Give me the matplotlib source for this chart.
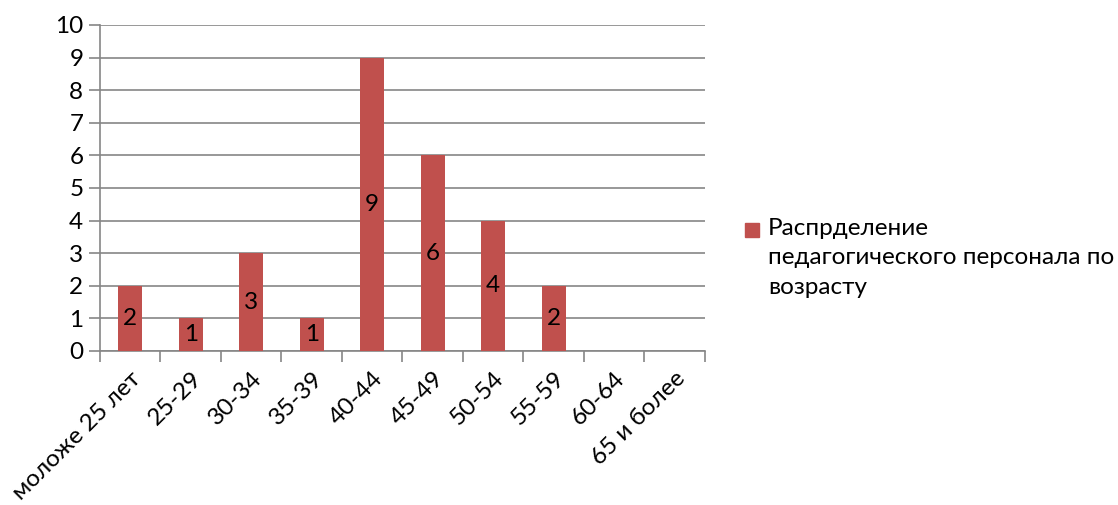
import matplotlib
matplotlib.use("Agg")
import matplotlib.pyplot as plt
from matplotlib.patches import Rectangle
import numpy as np

# DATA
categories = ["моложе 25 лет", "25-29", "30-34", "35-39", "40-44",
              "45-49", "50-54", "55-59", "60-64", "65 и более"]
counts = [2, 1, 3, 1, 9, 6, 4, 2, 0, 0]
series_name = "Распрделение\nпедагогического персонала по\nвозрасту"

plt.rcParams['font.family'] = ['Lato', 'DejaVu Sans']

bar_color = "#C0504D"
grid_color = "#868686"
fs = 17.5

fig = plt.figure(figsize=(11.18, 5.05), dpi=100)
ax = fig.add_axes([0.0894, 0.305, 0.5411, 0.6455])

x = np.arange(len(categories))
ax.bar(x, counts, width=0.4, color=bar_color, zorder=3)

# data labels in the middle of each non-zero bar
for xi, v in zip(x, counts):
    if v > 0:
        ax.text(xi, v / 2, str(v), ha="center", va="center", fontsize=fs, zorder=4)

ax.set_xlim(-0.5, len(categories) - 0.5)
ax.set_ylim(0, 10)
ax.set_yticks(range(0, 11))
ax.yaxis.grid(True, color=grid_color, linewidth=1.2, zorder=0)

ax.set_xticks(x)
ax.set_xticklabels(categories, rotation=45, ha="right", rotation_mode="anchor", fontsize=fs)
ax.set_xticks(np.arange(-0.5, len(categories)), minor=True)
ax.tick_params(axis="x", which="major", length=0, pad=12)
ax.tick_params(axis="x", which="minor", length=8, width=1.2, color=grid_color, direction="out")
ax.tick_params(axis="y", length=8, width=1.2, color=grid_color, labelsize=fs, pad=4)

for side in ["top", "right"]:
    ax.spines[side].set_visible(False)
for side in ["left", "bottom"]:
    ax.spines[side].set_color(grid_color)
    ax.spines[side].set_linewidth(1.2)

# legend: square key next to the first line of the series name
fig.patches.append(Rectangle((745 / 1118, 1 - 237 / 505), 14 / 1118, 14 / 505,
                             transform=fig.transFigure, color=bar_color))
fig.text(768 / 1118, 1 - 218 / 505, series_name, ha="left", va="top",
         fontsize=fs, linespacing=1.5)

fig.savefig("out.png", dpi=100)
